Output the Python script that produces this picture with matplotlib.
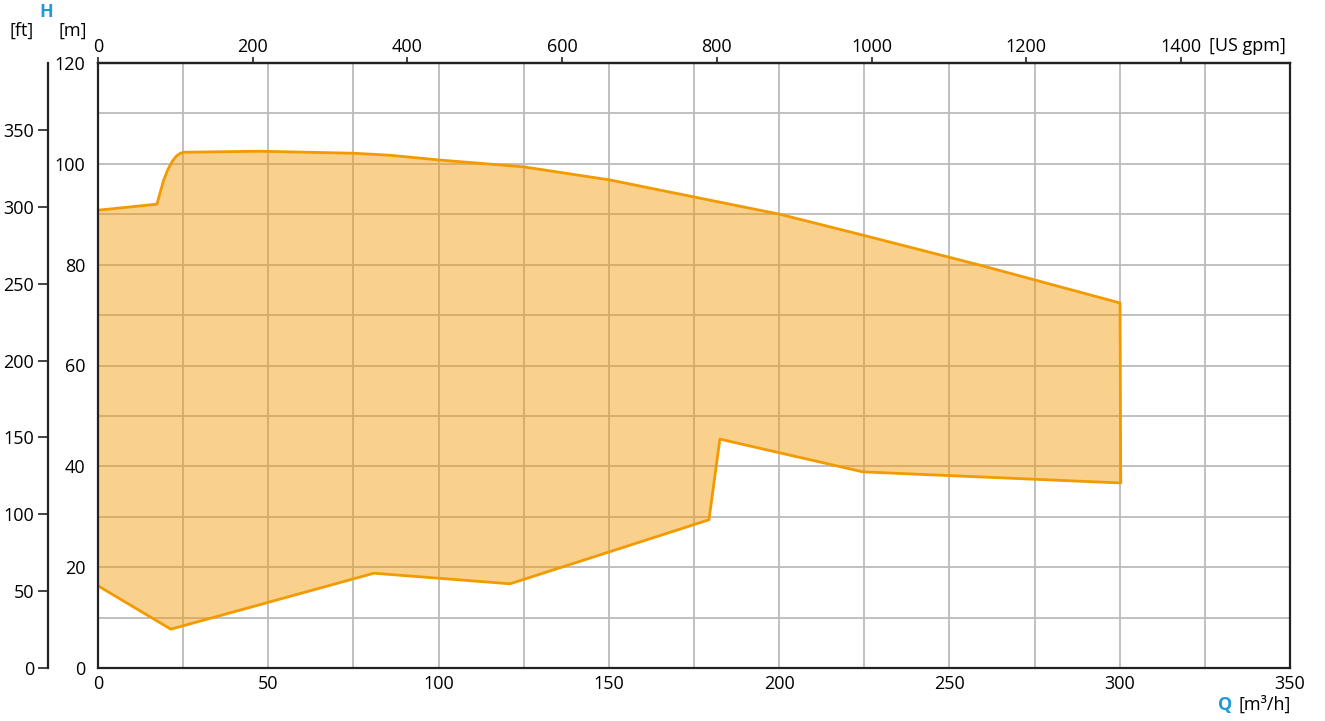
import matplotlib.pyplot as plt

plt.rcParams['font.family'] = ['Open Sans', 'DejaVu Sans']

# Betriebsbereich (Q in m3/h, H in m)
q_upper = [0, 17.3, 18.2, 19.3, 20.6, 21.9, 23.1, 24.2, 25.2, 47.6, 75.2, 85.7, 100.4, 125.0, 150.3, 176.7, 200.2, 225.5, 259.0, 300.1]
h_upper = [90.8, 92.0, 94.2, 96.8, 99.0, 100.6, 101.6, 102.1, 102.3, 102.5, 102.1, 101.7, 100.75, 99.4, 96.8, 93.2, 90.0, 85.7, 79.9, 72.4]
q_lower = [300.3, 224.6, 182.6, 179.4, 121.0, 81.0, 21.4, 0]
h_lower = [36.7, 38.9, 45.4, 29.4, 16.7, 18.8, 7.7, 16.3]

q_ticks = [0, 50, 100, 150, 200, 250, 300, 350]
h_ticks = [0, 20, 40, 60, 80, 100, 120]
ft_ticks = [0, 50, 100, 150, 200, 250, 300, 350]
gpm_ticks = [0, 200, 400, 600, 800, 1000, 1200, 1400]

orange = '#F29A00'
blue = '#1E9BD7'
dark = '#222222'
fs = 13

fig = plt.figure(figsize=(13.25, 7.21), dpi=100)
ax = fig.add_axes([98 / 1325, 1 - 668 / 721, 1192 / 1325, 605 / 721])

ax.set_xlim(0, 350)
ax.set_ylim(0, 120)
ax.set_xticks(q_ticks)
ax.set_yticks(h_ticks)
ax.set_xticks(range(0, 351, 25), minor=True)
ax.set_yticks(range(0, 121, 10), minor=True)
ax.grid(True, which='both', color='#BBBBBB', linewidth=1.3)
ax.set_axisbelow(True)
ax.tick_params(axis='both', which='both', length=0, labelsize=fs)
ax.tick_params(axis='x', pad=5)
ax.tick_params(axis='y', pad=9)
for s in ax.spines.values():
    s.set_color(dark)
    s.set_linewidth(1.6)
    s.set_zorder(5)

q_poly = q_upper + q_lower
h_poly = h_upper + h_lower
ax.fill(q_poly, h_poly, facecolor=orange, alpha=0.45, edgecolor='none', zorder=3)
ax.plot(q_poly, h_poly, color=orange, linewidth=2, zorder=4)

# ft-Achse links
ax_ft = ax.twinx()
ax_ft.set_ylim(0, 120 / 0.3048)
ax_ft.set_yticks(ft_ticks)
ax_ft.yaxis.set_ticks_position('left')
ax_ft.yaxis.set_label_position('left')
ax_ft.spines['left'].set_position(('axes', -50 / 1192))
for k in ['right', 'top', 'bottom']:
    ax_ft.spines[k].set_visible(False)
ax_ft.spines['left'].set_color(dark)
ax_ft.spines['left'].set_linewidth(1.6)
ax_ft.tick_params(axis='y', length=7, width=1.2, color=dark, labelsize=fs, pad=3)

# US gpm oben
ax_top = ax.twiny()
ax_top.set_xlim(0, 350 * 4.4029)
ax_top.set_xticks(gpm_ticks)
ax_top.set_xticklabels([str(t) for t in gpm_ticks])
for k in ['left', 'right', 'bottom']:
    ax_top.spines[k].set_visible(False)
ax_top.spines['top'].set_color(dark)
ax_top.spines['top'].set_linewidth(1.6)
ax_top.tick_params(axis='x', length=4, width=1.2, color=dark, labelsize=fs, pad=1)

fig.text(1209 / 1325, 1 - 46 / 721, '[US gpm]', fontsize=fs, ha='left', va='center')
fig.text(46 / 1325, 1 - 12 / 721, 'H', fontsize=fs, color=blue, fontweight='bold', ha='center', va='center')
fig.text(22 / 1325, 1 - 31 / 721, '[ft]', fontsize=fs, ha='center', va='center')
fig.text(73 / 1325, 1 - 31 / 721, '[m]', fontsize=fs, ha='center', va='center')
fig.text(1218 / 1325, 1 - 705 / 721, 'Q', fontsize=fs, color=blue, fontweight='bold', ha='left', va='center')
fig.text(1238 / 1325, 1 - 705 / 721, '[m³/h]', fontsize=fs, ha='left', va='center')

fig.savefig('out.png', dpi=100)
